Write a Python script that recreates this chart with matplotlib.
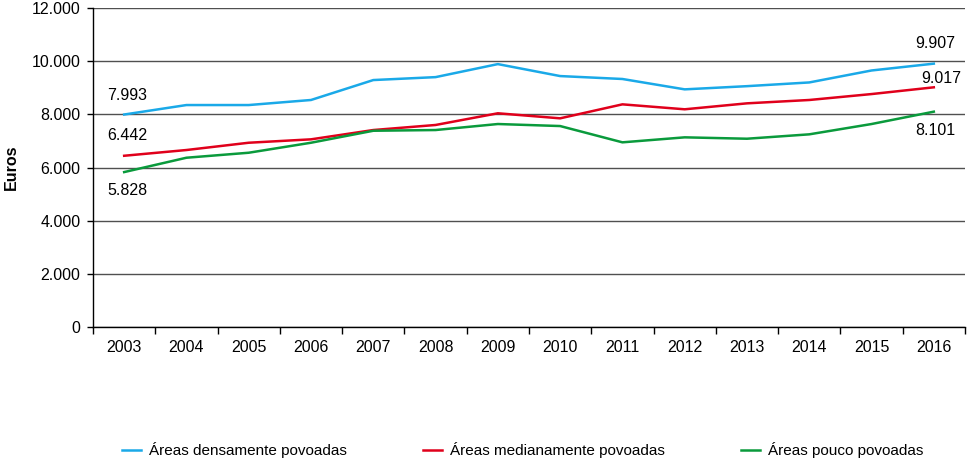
import matplotlib
matplotlib.use("Agg")
import matplotlib.pyplot as plt
from matplotlib.ticker import FixedLocator, FuncFormatter

years = [2003, 2004, 2005, 2006, 2007, 2008, 2009, 2010, 2011, 2012, 2013, 2014, 2015, 2016]
densas = [7993, 8350, 8350, 8540, 9290, 9400, 9890, 9440, 9330, 8940, 9060, 9200, 9650, 9907]
medias = [6442, 6658, 6932, 7060, 7410, 7600, 8040, 7850, 8376, 8190, 8414, 8540, 8763, 9017]
pouco = [5828, 6368, 6556, 6932, 7383, 7410, 7636, 7560, 6947, 7135, 7083, 7248, 7636, 8101]
series_names = ["Áreas densamente povoadas", "Áreas medianamente povoadas", "Áreas pouco povoadas"]
colors = ["#1aa9e8", "#e0001b", "#0a9a3c"]

plt.rcParams['font.family'] = ['Liberation Sans', 'DejaVu Sans']
FS = 11.5

def pt(v):
    # thousands separator as a dot
    return f"{int(v):,}".replace(",", ".")

fig = plt.figure(figsize=(9.7, 4.63), dpi=100)
ax = fig.add_axes([0.0959, 0.2937, 0.8989, 0.689])

x = list(range(len(years)))
for vals, name, c in zip([densas, medias, pouco], series_names, colors):
    ax.plot(x, vals, color=c, lw=1.8, label=name)

ax.set_xlim(-0.5, len(years) - 0.5)
ax.set_ylim(0, 12000)
ax.set_yticks(range(0, 12001, 2000))
ax.yaxis.set_major_formatter(FuncFormatter(lambda v, p: pt(v)))
ax.grid(axis='y', color='#505050', lw=1)
ax.set_axisbelow(True)

ax.set_xticks(x)
ax.set_xticklabels([str(y) for y in years])
ax.xaxis.set_minor_locator(FixedLocator([i - 0.5 for i in range(len(years) + 1)]))
ax.tick_params(axis='x', which='major', length=0, pad=9, labelsize=FS)
ax.tick_params(axis='x', which='minor', length=5, width=1, direction='out')
ax.tick_params(axis='y', length=4, width=1, labelsize=FS, pad=5)

for s in ['top', 'right']:
    ax.spines[s].set_visible(False)
for s in ['left', 'bottom']:
    ax.spines[s].set_color('black')
    ax.spines[s].set_linewidth(1)

ax.set_ylabel("Euros", fontweight='bold', fontsize=FS, labelpad=9)

# start and end value labels: (series, index, x offset, y offset) in points
n = len(years) - 1
labels_at = [
    (densas, 0, 2, 13.7),
    (medias, 0, 2, 14.4),
    (pouco, 0, 2, -13.0),
    (densas, n, 1, 14.4),
    (medias, n, 5, 6.0),
    (pouco, n, 1, -13.7),
]
for vals, i, dx, dy in labels_at:
    ax.annotate(pt(vals[i]), (i, vals[i]), xytext=(dx, dy), textcoords='offset points',
                ha='center', va='center', fontsize=FS)

handles, labels = ax.get_legend_handles_labels()
fig.legend(handles, labels, loc='center', bbox_to_anchor=(0.539, 0.028), ncol=3,
           frameon=False, handlelength=1.25, handletextpad=0.5, columnspacing=5.0,
           prop={'family': ['Liberation Sans Narrow', 'Liberation Sans'], 'size': 11})

fig.savefig("out.png", dpi=100)
